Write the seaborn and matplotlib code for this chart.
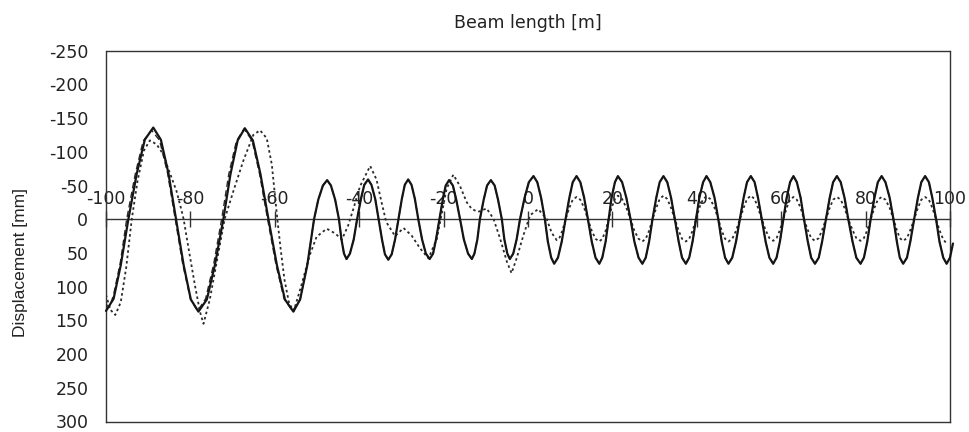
import matplotlib
matplotlib.use("Agg")
import matplotlib.pyplot as plt
import seaborn as sns
import pandas as pd

# ---------------- data ----------------
solid_x = [-100.0, -98.2, -96.5, -94.7, -92.7, -90.8, -88.8, -87.0, -85.2, -83.4,
           -81.6, -79.9, -78.1, -76.1, -74.2, -72.2, -70.5, -68.8, -67.1, -65.2,
           -63.4, -61.5, -59.5, -57.6, -55.6, -54.0, -52.3, -50.7, -49.7, -48.6,
           -47.6, -46.7, -45.7, -44.8, -44.2, -43.6, -43.0, -42.2, -41.3, -40.5,
           -39.6, -38.8, -37.9, -37.1, -36.2, -35.4, -34.6, -33.9, -33.1, -32.3,
           -31.5, -30.7, -29.9, -29.2, -28.4, -27.6, -26.8, -26.0, -25.1, -24.2,
           -23.3, -22.5, -21.8, -21.0, -20.2, -19.5, -18.7, -17.8, -17.0, -16.1,
           -15.2, -14.2, -13.3, -12.7, -12.0, -11.4, -10.5, -9.7, -8.8, -7.9,
           -7.1, -6.2, -5.6, -4.9, -4.3, -3.5, -2.7, -1.9, -0.8, 0.2,
           1.3, 2.2, 3.1, 4.0, 4.7, 5.5, 6.2, 7.1, 8.0, 8.9,
           9.8, 10.6, 11.5, 12.4, 13.3, 14.2, 15.1, 16.0, 16.9, 17.6,
           18.4, 19.1, 19.8, 20.6, 21.3, 22.3, 23.3, 24.3, 25.2, 26.2,
           27.1, 27.9, 28.7, 29.5, 30.4, 31.2, 32.1, 33.0, 33.9, 34.8,
           35.7, 36.5, 37.4, 38.2, 39.0, 39.8, 40.6, 41.5, 42.3, 43.2,
           44.2, 45.1, 45.9, 46.7, 47.5, 48.4, 49.3, 50.2, 51.1, 51.9,
           52.8, 53.7, 54.5, 55.4, 56.3, 57.2, 58.1, 58.9, 59.7, 60.5,
           61.3, 62.1, 62.9, 63.7, 64.6, 65.4, 66.3, 67.1, 68.0, 68.9,
           69.7, 70.6, 71.5, 72.3, 73.2, 74.1, 75.0, 75.9, 76.9, 77.8,
           78.8, 79.6, 80.4, 81.2, 82.1, 82.9, 83.8, 84.7, 85.7, 86.6,
           87.4, 88.1, 88.9, 89.8, 90.6, 91.5, 92.4, 93.2, 94.1, 95.0,
           95.8, 96.7, 97.5, 98.4, 99.2, 100.0, 100.7]
solid_y = [136, 118, 68, 0, -68, -118, -136, -118, -68, 0,
           68, 119, 137, 119, 68, 0, -67, -117, -135, -117,
           -67, 0, 68, 119, 137, 119, 68, 0, -29, -50,
           -58, -50, -29, 0, 30, 51, 59, 51, 30, 0,
           -30, -51, -59, -51, -30, 0, 30, 52, 60, 52,
           30, 0, -30, -51, -59, -51, -30, 0, 30, 51,
           59, 51, 30, 0, -29, -50, -58, -50, -29, 0,
           30, 51, 59, 51, 30, 0, -29, -50, -58, -50,
           -29, 0, 30, 51, 59, 51, 30, 0, -32, -55,
           -64, -55, -32, 0, 33, 57, 66, 57, 33, 0,
           -32, -55, -64, -55, -32, 0, 33, 57, 66, 57,
           33, 0, -32, -55, -64, -55, -32, 0, 33, 57,
           66, 57, 33, 0, -32, -55, -64, -55, -32, 0,
           33, 57, 66, 57, 33, 0, -32, -55, -64, -55,
           -32, 0, 33, 57, 66, 57, 33, 0, -32, -55,
           -64, -55, -32, 0, 33, 57, 66, 57, 33, 0,
           -32, -55, -64, -55, -32, 0, 33, 57, 66, 57,
           33, 0, -32, -55, -64, -55, -32, 0, 33, 57,
           66, 57, 33, 0, -32, -55, -64, -55, -32, 0,
           33, 57, 66, 57, 33, 0, -32, -55, -64, -55,
           -32, 0, 33, 57, 66, 57, 36]

# dashed series: separate on the left, lies under the solid line further right
dashed_left_x = [-100.0, -99.2, -98.2, -96.6, -95.1, -93.1, -91.2, -89.2, -87.3, -85.4,
                 -83.6, -81.8, -80.0, -78.3, -76.4, -74.5, -72.6, -70.9, -69.1, -67.3,
                 -65.4, -63.6, -61.7, -59.7, -57.8, -55.8]
dashed_left_y = [126, 131, 112, 64, 0, -66, -116, -132, -117, -68,
                 0, 67, 118, 136, 118, 67, 0, -67, -116, -134,
                 -117, -67, 0, 68, 118, 136]

dotted_x = [-100.0, -99.0, -97.8, -96.5, -95.2, -93.9, -92.5, -91.0, -89.6, -88.0,
            -86.4, -85.6, -83.3, -82.1, -81.6, -80.5, -78.9, -77.7, -76.9, -75.4,
            -73.8, -72.2, -71.9, -69.8, -67.5, -65.1, -63.5, -61.9, -60.7, -59.9,
            -59.4, -58.6, -57.7, -56.6, -55.5, -53.8, -51.7, -50.1, -47.7, -45.7,
            -44.1, -42.6, -41.4, -39.8, -37.4, -35.9, -34.7, -33.6, -31.5, -29.5,
            -27.6, -25.6, -23.6, -21.6, -20.5, -19.3, -17.7, -16.1, -14.5, -13.3,
            -11.8, -9.8, -8.2, -6.6, -5.0, -3.9, -2.7, -1.1, 0.5, 2.4,
            4.4, 5.6, 6.8, 7.5, 8.2, 8.9, 9.8, 10.6, 11.5, 12.4,
            13.3, 14.2, 15.1, 16.0, 16.9, 17.6, 18.4, 19.1, 19.8, 20.6,
            21.3, 22.3, 23.3, 24.3, 25.2, 26.2, 27.1, 27.9, 28.7, 29.5,
            30.4, 31.2, 32.1, 33.0, 33.9, 34.8, 35.7, 36.5, 37.4, 38.2,
            39.0, 39.8, 40.6, 41.5, 42.3, 43.2, 44.2, 45.1, 45.9, 46.7,
            47.5, 48.4, 49.3, 50.2, 51.1, 51.9, 52.8, 53.7, 54.5, 55.4,
            56.3, 57.2, 58.1, 58.9, 59.7, 60.5, 61.3, 62.1, 62.9, 63.7,
            64.6, 65.4, 66.3, 67.1, 68.0, 68.9, 69.7, 70.6, 71.5, 72.3,
            73.2, 74.1, 75.0, 75.9, 76.9, 77.8, 78.8, 79.6, 80.4, 81.2,
            82.1, 82.9, 83.8, 84.7, 85.7, 86.6, 87.4, 88.1, 88.9, 89.8,
            90.6, 91.5, 92.4, 93.2, 94.1, 95.0, 95.8, 96.7, 97.5, 98.4,
            99.2]
dotted_y = [112, 134, 142, 123, 71, 0, -58, -102, -117, -111,
            -96, -81, -42, -13, 0, 41, 99, 138, 155, 119,
            65, 11, 0, -42, -86, -125, -132, -120, -81, -32,
            0, 45, 90, 125, 136, 100, 53, 26, 14, 21,
            30, 9, -15, -49, -79, -59, -25, 4, 25, 13,
            24, 43, 58, 29, -6, -45, -66, -49, -25, -15,
            -11, -16, -1, 29, 63, 80, 58, 24, -6, -15,
            -1, 20, 31, 27, 16, 0, -17, -29, -33, -29,
            -17, 0, 17, 29, 33, 29, 17, 0, -17, -30,
            -35, -30, -17, 0, 17, 29, 33, 29, 17, 0,
            -17, -30, -35, -30, -17, 0, 17, 29, 33, 29,
            17, 0, -17, -30, -34, -30, -17, 0, 17, 29,
            33, 29, 17, 0, -17, -30, -35, -30, -17, 0,
            16, 28, 32, 28, 16, 0, -17, -29, -33, -29,
            -17, 0, 16, 28, 32, 28, 16, 0, -17, -29,
            -33, -29, -17, 0, 16, 28, 32, 28, 16, 0,
            -17, -29, -33, -29, -17, 0, 16, 28, 32, 28,
            16, 0, -17, -29, -33, -29, -17, 0, 16, 30,
            36]

x_ticks = [-100, -80, -60, -40, -20, 0, 20, 40, 60, 80, 100]
y_ticks = [-250, -200, -150, -100, -50, 0, 50, 100, 150, 200, 250, 300]
x_label = "Beam length [m]"
y_label = "Displacement [mm]"

# ---------------- build tables ----------------
tail = [(x, y) for x, y in zip(solid_x, solid_y) if x > -55.0]
dashed_x = dashed_left_x + [p[0] for p in tail]
dashed_y = dashed_left_y + [p[1] for p in tail]

df_solid = pd.DataFrame({"x": solid_x, "y": solid_y})
df_dashed = pd.DataFrame({"x": dashed_x, "y": dashed_y})
df_dotted = pd.DataFrame({"x": dotted_x, "y": dotted_y})

# ---------------- style ----------------
sns.set_style("white")
plt.rcParams["font.family"] = ["DejaVu Sans"]
txt = "#222222"
axc = "#333333"

top_px, bot_px = 50.7, 421.5
fig = plt.figure(figsize=(9.69, 4.32), dpi=100)
ax = fig.add_axes([106 / 969, 1 - bot_px / 432, 844 / 969, (bot_px - top_px) / 432])

sns.lineplot(data=df_dotted, x="x", y="y", ax=ax, sort=False, estimator=None,
             color="#2a2a2a", linewidth=1.3, zorder=2)
ax.lines[-1].set_dashes((1.4, 1.6))
sns.lineplot(data=df_dashed, x="x", y="y", ax=ax, sort=False, estimator=None,
             color="#2a2a2a", linewidth=1.0, zorder=3)
ax.lines[-1].set_dashes((4.5, 2.5))
sns.lineplot(data=df_solid, x="x", y="y", ax=ax, sort=False, estimator=None,
             color="#151515", linewidth=1.6, zorder=4)
ax.lines[-1].set_clip_on(False)

ax.set_xlim(-100, 100)
ax.set_ylim(300, -250)
ax.set_xticks(x_ticks)
ax.set_xticklabels([str(v) for v in x_ticks])
ax.set_yticks(y_ticks)
ax.set_yticklabels([str(v) for v in y_ticks])

# x axis drawn through y = 0, labels above it
ax.spines["top"].set_position(("data", 0))
ax.xaxis.set_ticks_position("top")
ax.tick_params(axis="x", direction="inout", length=12, width=1.0, pad=2,
               labelsize=12.5, colors=axc, labelcolor=txt)
ax.tick_params(axis="y", direction="out", length=6.7, width=1.0, pad=6,
               labelsize=12.5, colors=axc, labelcolor=txt)
for s in ["top", "left", "right", "bottom"]:
    ax.spines[s].set_visible(True)
    ax.spines[s].set_color(axc)
    ax.spines[s].set_linewidth(1.0)
# upper frame edge of the plot area
ax.axhline(-250, color=axc, linewidth=1.0, clip_on=False, zorder=5)

ax.set_xlabel("")
ax.set_ylabel(y_label, fontsize=12.5, color=txt, family=["Liberation Sans", "DejaVu Sans"])
ax.yaxis.set_label_coords(-0.0924, 0.43)
ax.set_title(x_label, fontsize=12.5, color=txt, y=1.0, pad=16)
ax.grid(False)

fig.savefig("out.png", dpi=100)
